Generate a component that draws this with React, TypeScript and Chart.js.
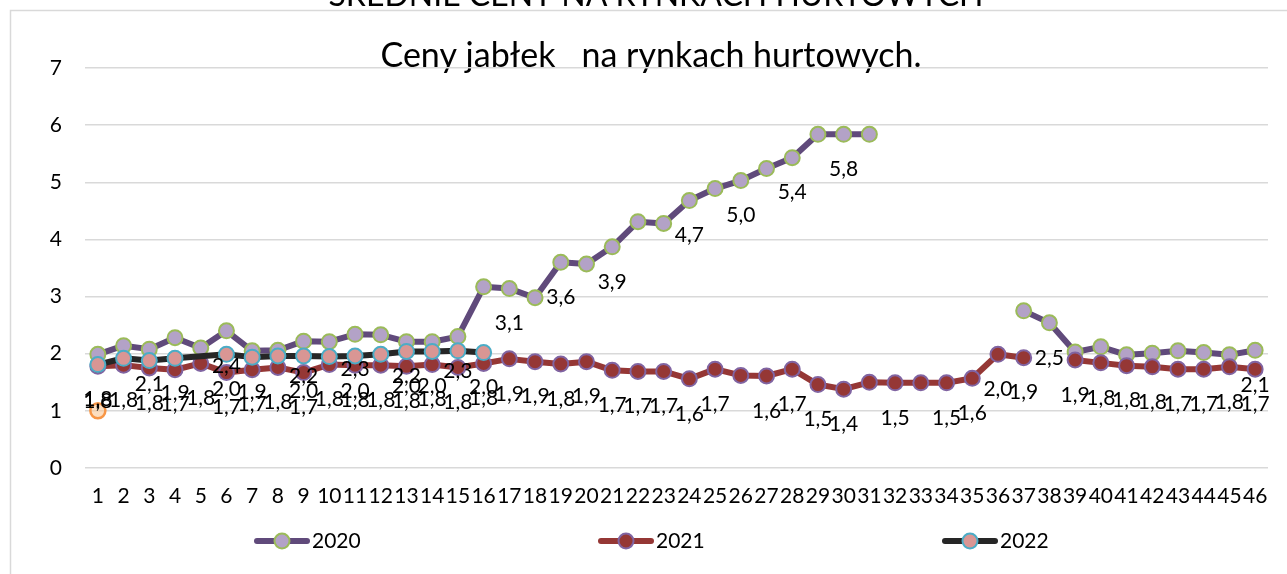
import React, { useEffect, useRef } from "react";
import { Chart, registerables } from "chart.js";

Chart.register(...registerables);

const mainTitle = "ŚREDNIE CENY NA RYNKACH HURTOWYCH";
const chartTitle = "Ceny jabłek   na rynkach hurtowych.";

const categories = [
  "1", "2", "3", "4", "5", "6", "7", "8", "9", "10",
  "11", "12", "13", "14", "15", "16", "17", "18", "19", "20",
  "21", "22", "23", "24", "25", "26", "27", "28", "29", "30",
  "31", "32", "33", "34", "35", "36", "37", "38", "39", "40",
  "41", "42", "43", "44", "45", "46",
];

const yTicks = [0, 1, 2, 3, 4, 5, 6, 7];

const values2020 = [
  1.99, 2.14, 2.08, 2.28, 2.1, 2.4, 2.05, 2.06, 2.22, 2.21,
  2.34, 2.33, 2.21, 2.21, 2.3, 3.17, 3.14, 2.98, 3.6, 3.57,
  3.87, 4.31, 4.28, 4.68, 4.89, 5.03, 5.24, 5.43, 5.84, 5.84,
  5.84, null, null, null, null, null, 2.75, 2.54, 2.03, 2.12,
  1.98, 2.01, 2.05, 2.02, 1.98, 2.06,
];

const values2021 = [
  1.78, 1.8, 1.75, 1.72, 1.83, 1.67, 1.72, 1.76, 1.67, 1.81,
  1.8, 1.8, 1.78, 1.81, 1.76, 1.83, 1.91, 1.86, 1.82, 1.86,
  1.71, 1.69, 1.69, 1.56, 1.73, 1.62, 1.61, 1.73, 1.46, 1.38,
  1.5, 1.49, 1.49, 1.49, 1.57, 1.99, 1.93, null, 1.89, 1.84,
  1.79, 1.77, 1.73, 1.73, 1.77, 1.73,
];

const values2022 = [
  1.81, 1.92, 1.88, 1.92, null, 1.99, 1.94, 1.96, 1.96, 1.95,
  1.96, 1.99, 2.04, 2.04, 2.05, 2.02, null, null, null, null,
  null, null, null, null, null, null, null, null, null, null,
  null, null, null, null, null, null, null, null, null, null,
  null, null, null, null, null, null,
];

const valuesExtra = [
  1.0, null, null, null, null, null, null, null, null, null,
  null, null, null, null, null, null, null, null, null, null,
  null, null, null, null, null, null, null, null, null, null,
  null, null, null, null, null, null, null, null, null, null,
  null, null, null, null, null, null,
];

// categories whose value label is shown, per series
const labelled2020 = [3, 6, 9, 11, 13, 15, 17, 19, 21, 24, 26, 28, 30, 38, 46];
const labelled2021 = [
  1, 2, 3, 4, 5, 6, 7, 8, 9, 10, 11, 12, 13, 14, 15, 16, 17, 18, 19, 20,
  21, 22, 23, 24, 25, 27, 28, 29, 30, 32, 34, 35, 36, 37, 39, 40, 41, 42,
  43, 44, 45, 46,
];
const labelled2022 = [1, 4, 6, 7, 9, 11, 13, 14, 16];

const FONT = "Lato, 'Open Sans', sans-serif";

const labelSets: Record<string, number[]> = {
  "2020": labelled2020,
  "2021": labelled2021,
  "2022": labelled2022,
};

const decorPlugin = {
  id: "decor",
  beforeDraw(chart: any) {
    const ctx = chart.ctx;
    ctx.save();
    ctx.fillStyle = "#ffffff";
    ctx.fillRect(0, 0, chart.width, chart.height);
    // chart border
    ctx.strokeStyle = "#D9D9D9";
    ctx.lineWidth = 1.5;
    ctx.strokeRect(10.5, 10.5, chart.width + 50, chart.height + 50);
    // cut-off main title
    ctx.fillStyle = "#000000";
    ctx.textAlign = "center";
    ctx.textBaseline = "alphabetic";
    ctx.font = `32px ${FONT}`;
    ctx.fillText(mainTitle, 656, 6);
    // chart title
    ctx.textBaseline = "middle";
    ctx.font = `34px ${FONT}`;
    ctx.fillText(chartTitle, 651, 56);
    ctx.restore();
  },
  afterDatasetsDraw(chart: any) {
    const ctx = chart.ctx;
    ctx.save();
    ctx.fillStyle = "#000000";
    ctx.textAlign = "center";
    ctx.textBaseline = "middle";
    ctx.font = `21px ${FONT}`;
    chart.data.datasets.forEach((ds: any, i: number) => {
      const cats = labelSets[ds.label];
      if (!cats) return;
      const meta = chart.getDatasetMeta(i);
      cats.forEach((c) => {
        const v = ds.data[c - 1];
        const el = meta.data[c - 1];
        if (v == null || !el) return;
        const txt = v.toFixed(1).replace(".", ",");
        ctx.fillText(txt, el.x, el.y + 35);
      });
    });
    ctx.restore();
  },
  afterDraw(chart: any) {
    const ctx = chart.ctx;
    ctx.save();
    const items = chart.data.datasets.filter((d: any) => labelSets[d.label]);
    const pitch = 344;
    const startX = 254;
    const yc = 541;
    items.forEach((ds: any, k: number) => {
      const x0 = startX + k * pitch;
      ctx.strokeStyle = ds.borderColor;
      ctx.lineWidth = 6;
      ctx.lineCap = "round";
      ctx.beginPath();
      ctx.moveTo(x0 + 3, yc);
      ctx.lineTo(x0 + 53, yc);
      ctx.stroke();
      ctx.beginPath();
      ctx.arc(x0 + 28, yc, 7.5, 0, Math.PI * 2);
      ctx.fillStyle = ds.pointBackgroundColor;
      ctx.fill();
      ctx.lineWidth = 2;
      ctx.strokeStyle = ds.pointBorderColor;
      ctx.stroke();
      ctx.fillStyle = "#000000";
      ctx.font = `21px ${FONT}`;
      ctx.textAlign = "left";
      ctx.textBaseline = "middle";
      ctx.fillText(ds.label, x0 + 58, yc);
    });
    ctx.restore();
  },
};

export default function App() {
  const ref = useRef<HTMLCanvasElement>(null);

  useEffect(() => {
    if (!ref.current) return;
    const common = {
      borderWidth: 6,
      pointRadius: 7.5,
      pointHoverRadius: 7.5,
      pointBorderWidth: 2,
      borderCapStyle: "round",
      borderJoinStyle: "round",
      tension: 0,
      fill: false,
    };
    const chart = new Chart(ref.current, {
      type: "line",
      data: {
        labels: categories,
        datasets: [
          {
            ...common,
            label: "2020",
            data: values2020,
            borderColor: "#604A7B",
            backgroundColor: "#604A7B",
            pointBackgroundColor: "#B3A2C7",
            pointBorderColor: "#9BBB59",
            spanGaps: false,
            order: 3,
          },
          {
            ...common,
            label: "2021",
            data: values2021,
            borderColor: "#953735",
            backgroundColor: "#953735",
            pointBackgroundColor: "#953735",
            pointBorderColor: "#8064A2",
            spanGaps: false,
            order: 2,
          },
          {
            ...common,
            label: "2022",
            data: values2022,
            borderColor: "#262626",
            backgroundColor: "#262626",
            pointBackgroundColor: "#D99694",
            pointBorderColor: "#4BACC6",
            spanGaps: true,
            order: 1,
          },
          {
            ...common,
            label: "",
            data: valuesExtra,
            showLine: false,
            borderColor: "#F79646",
            backgroundColor: "rgba(250,200,150,0.6)",
            pointBackgroundColor: "rgba(250,200,150,0.6)",
            pointBorderColor: "#F79646",
            pointBorderWidth: 2.5,
            order: 0,
          },
        ] as any,
      },
      options: {
        animation: false,
        responsive: false,
        maintainAspectRatio: false,
        events: [],
        layout: { padding: { top: 68, right: 19, bottom: 56, left: 0 } },
        plugins: {
          legend: { display: false },
          tooltip: { enabled: false },
          title: { display: false },
        },
        scales: {
          x: {
            type: "category",
            offset: true,
            grid: { display: false, drawTicks: false },
            border: { display: false },
            ticks: {
              autoSkip: false,
              maxRotation: 0,
              minRotation: 0,
              color: "#000000",
              font: { family: FONT, size: 21 },
              padding: 16,
            },
            afterFit: (s: any) => {
              s.height = 50;
            },
          },
          y: {
            min: yTicks[0],
            max: yTicks[yTicks.length - 1],
            afterBuildTicks: (s: any) => {
              s.ticks = yTicks.map((v) => ({ value: v }));
            },
            ticks: {
              color: "#000000",
              font: { family: FONT, size: 21 },
              padding: 23,
            },
            grid: { color: "#D9D9D9", lineWidth: 1.5, drawTicks: false },
            border: { display: false },
            afterFit: (s: any) => {
              s.width = 85;
            },
          },
        },
      } as any,
      plugins: [decorPlugin],
    });
    return () => chart.destroy();
  }, []);

  return (
    <div
      style={{
        position: "fixed",
        left: 0,
        top: 0,
        width: 1287,
        height: 574,
        background: "#ffffff",
      }}
    >
      <canvas ref={ref} width={1287} height={574} style={{ display: "block" }} />
    </div>
  );
}
